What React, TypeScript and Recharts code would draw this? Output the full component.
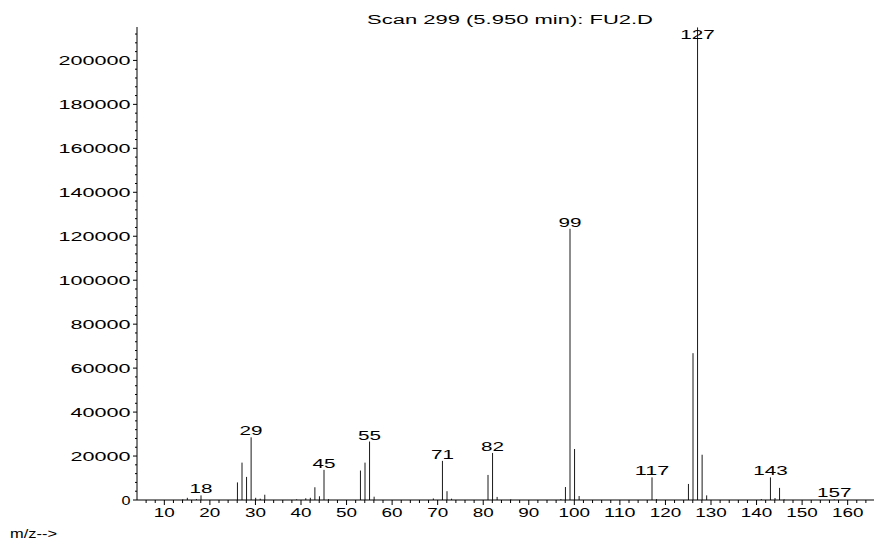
import { BarChart, Bar, XAxis, YAxis, LabelList } from 'recharts';

// m/z values and abundances
const mz = [
  14, 15, 17, 18, 26, 27, 28, 29, 30, 31, 32, 39, 41, 42, 43, 44, 45, 46, 53, 54,
  55, 56, 69, 71, 72, 73, 81, 82, 83, 86, 97, 98, 99, 100, 101, 117, 118, 125,
  126, 127, 128, 129, 141, 143, 144, 145, 146, 157,
];
const abundance = [
  300, 1000, 400, 2100, 8000, 17000, 10500, 28500, 1000, 600, 2400, 300, 800,
  1000, 5800, 1700, 13700, 400, 13400, 17000, 26600, 1500, 700, 17800, 4000, 600,
  11400, 21400, 1400, 300, 400, 5900, 123400, 23200, 1800, 10300, 400, 7300,
  66800, 215000, 20600, 2100, 400, 10300, 900, 5500, 300, 300,
];
const labelled = [18, 29, 45, 55, 71, 82, 99, 117, 127, 143, 157];

const xMajorTicks = [10, 20, 30, 40, 50, 60, 70, 80, 90, 100, 110, 120, 130, 140, 150, 160];
const yMajorTicks = [0, 20000, 40000, 60000, 80000, 100000, 120000, 140000, 160000, 180000, 200000];

const xTicks: number[] = [];
for (let v = 6; v <= 164; v += 2) xTicks.push(v);
const yTicks: number[] = [];
for (let v = 0; v <= 212000; v += 4000) yTicks.push(v);

const data = mz.map((m, i) => ({
  mz: m,
  value: abundance[i],
  label: labelled.includes(m) ? String(m) : '',
}));

const FONT = '"Liberation Sans", Arial, sans-serif';
const FS = 12.5;

function PeakLine(props: any) {
  const { x, y, width, height } = props;
  const cx = x + width / 2;
  return <line x1={cx} x2={cx} y1={y} y2={y + height} stroke='#1a1a1a' strokeWidth={1} />;
}

function PeakLabel(props: any) {
  const { x, y, width, value } = props;
  if (!value) return null;
  const base = Math.max(y - 2, 38.5);
  return (
    <text
      x={x + width / 2 - (value.length * 11.5) / 2}
      y={base}
      fontFamily={FONT}
      fontSize={FS}
      fill='#000'
      textLength={value.length * 11.5}
      lengthAdjust='spacingAndGlyphs'
    >
      {value}
    </text>
  );
}

function YTick(props: any) {
  const { x, y, payload } = props;
  const v = payload.value;
  const major = yMajorTicks.includes(v);
  const s = String(v);
  const w = s.length === 1 ? 9 : s.length * 12;
  return (
    <g>
      <line x1={x - (major ? 4 : 2)} x2={x} y1={y} y2={y} stroke='#000' />
      {major && (
        <text
          x={x - 6.5 - w}
          y={y + 4.5}
          fontFamily={FONT}
          fontSize={FS}
          fill='#000'
          textLength={w}
          lengthAdjust='spacingAndGlyphs'
        >
          {s}
        </text>
      )}
    </g>
  );
}

function XTick(props: any) {
  const { x, y, payload } = props;
  const v = payload.value;
  const major = xMajorTicks.includes(v);
  const s = String(v);
  const w = s.length * 10.5;
  return (
    <g>
      <line x1={x} x2={x} y1={y} y2={y + (major ? 5 : 3)} stroke='#000' />
      {major && (
        <text
          x={x - w / 2}
          y={y + 17}
          fontFamily={FONT}
          fontSize={FS}
          fill='#000'
          textLength={w}
          lengthAdjust='spacingAndGlyphs'
        >
          {s}
        </text>
      )}
    </g>
  );
}

export default function App() {
  return (
    <div
      style={{
        position: 'absolute',
        left: 0,
        top: 0,
        width: 874,
        height: 540,
        overflow: 'hidden',
        background: '#fff',
      }}
    >
      <BarChart
        width={880}
        height={540}
        data={data}
        margin={{ top: 27, right: 5, left: 0, bottom: 0 }}
      >
        <XAxis
          dataKey='mz'
          type='number'
          domain={[4, 166]}
          ticks={xTicks}
          interval={0}
          height={40}
          tickSize={0}
          tickMargin={0}
          tickLine={false}
          axisLine={{ stroke: '#000' }}
          tick={<XTick />}
        />
        <YAxis
          type='number'
          domain={[0, 215200]}
          ticks={yTicks}
          interval={0}
          width={137}
          tickSize={0}
          tickMargin={0}
          tickLine={false}
          axisLine={{ stroke: '#000' }}
          tick={<YTick />}
        />
        <Bar dataKey='value' barSize={1} shape={<PeakLine />} isAnimationActive={false}>
          <LabelList dataKey='label' content={<PeakLabel />} />
        </Bar>
      </BarChart>
      <svg
        width={874}
        height={540}
        style={{ position: 'absolute', left: 0, top: 0, pointerEvents: 'none' }}
      >
        <text
          x={367}
          y={24}
          fontFamily={FONT}
          fontSize={FS}
          fill='#000'
          textLength={286}
          lengthAdjust='spacingAndGlyphs'
        >
          Scan 299 (5.950 min): FU2.D
        </text>
        <text
          x={10}
          y={538}
          fontFamily={FONT}
          fontSize={FS}
          fill='#000'
          textLength={47}
          lengthAdjust='spacingAndGlyphs'
        >
          m/z--&gt;
        </text>
      </svg>
    </div>
  );
}
